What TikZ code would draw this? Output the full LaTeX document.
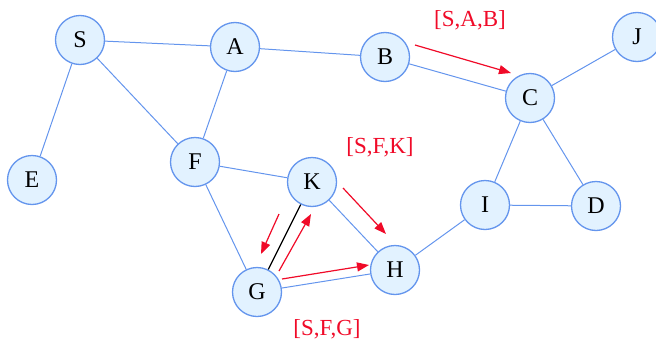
\documentclass[tikz,border=0pt]{standalone}
\usepackage{fontspec}
\setmainfont{Liberation Serif}
\usetikzlibrary{arrows.meta,backgrounds}
\definecolor{edgeblue}{RGB}{100,149,237}
\definecolor{nodefill}{RGB}{226,242,255}
\definecolor{pathred}{RGB}{240,10,40}
\tikzset{
  vtx/.style={circle, draw=edgeblue, line width=1.3pt, fill=nodefill, minimum size=49pt, inner sep=0pt, font=\fontsize{24}{26}\selectfont},
  edge/.style={draw=edgeblue, line width=1pt},
  treeedge/.style={draw=black, line width=1.2pt},
  redarrow/.style={draw=pathred, line width=1.2pt, -{Triangle[length=12pt,width=9pt]}},
  lbl/.style={text=pathred, font=\fontsize{23}{25}\selectfont, inner sep=0pt}
}
\begin{document}
\begin{tikzpicture}[x=1pt,y=-1pt]
\useasboundingbox (0,0) rectangle (656,343);
\node[vtx] (S) at (80,40) {S};
\node[vtx] (A) at (235,47) {A};
\node[vtx] (B) at (385,57) {B};
\node[vtx] (C) at (530,98) {C};
\node[vtx] (J) at (637,37) {J};
\node[vtx] (E) at (32,180) {E};
\node[vtx] (F) at (195,162) {F};
\node[vtx] (K) at (312,182) {K};
\node[vtx] (I) at (485,205) {I};
\node[vtx] (D) at (596,206) {D};
\node[vtx] (G) at (257,292) {G};
\node[vtx] (H) at (395,270) {H};
\begin{scope}[on background layer]
\draw[edge] (S)--(A) (S)--(E) (S)--(F) (A)--(F) (A)--(B) (B)--(C)
  (C)--(J) (C)--(I) (C)--(D) (I)--(D) (I)--(H) (F)--(K) (F)--(G)
  (K)--(H) (G)--(H);
\draw[treeedge] (K)--(G);
\end{scope}
\coordinate (bc1) at (415,45); \coordinate (bc2) at (511,73);
\coordinate (kh1) at (343,188); \coordinate (kh2) at (386,234);
\coordinate (kg1) at (279,214); \coordinate (kg2) at (261,254);
\coordinate (gk1) at (279,271); \coordinate (gk2) at (311,214);
\coordinate (gh1) at (282,279); \coordinate (gh2) at (369,265);
\draw[redarrow] (bc1)--(bc2);
\draw[redarrow] (kh1)--(kh2);
\draw[redarrow] (kg1)--(kg2);
\draw[redarrow] (gk1)--(gk2);
\draw[redarrow] (gh1)--(gh2);
\node[lbl] (l1) at (470,20) {[S,A,B]};
\node[lbl] (l2) at (380,147) {[S,F,K]};
\node[lbl] (l3) at (327,329) {[S,F,G]};
\end{tikzpicture}
\end{document}
